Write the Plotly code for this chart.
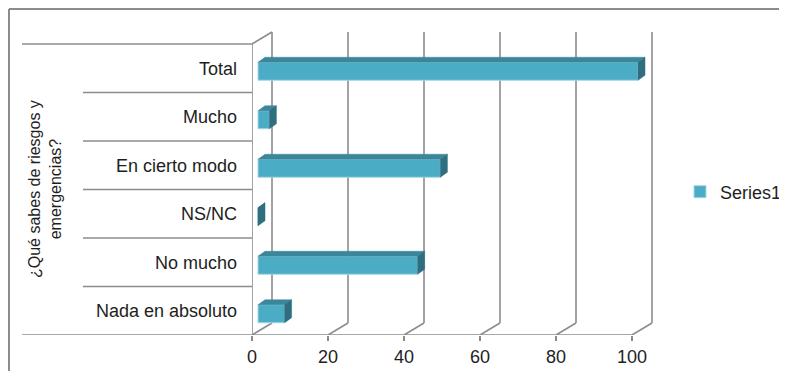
import plotly.graph_objects as go

# data (bottom to top, as drawn)
categories = ["Nada en absoluto", "No mucho", "NS/NC", "En cierto modo", "Mucho", "Total"]
values = [7, 42, 0, 48, 3, 100]
x_ticks = [0, 20, 40, 60, 80, 100]
series_name = "Series1"
axis_title = "¿Qué sabes de riesgos y<br>emergencias?"

# the page body adds an 8px margin, so the figure is drawn 8px smaller
OFF = 8
W, H = 787 - OFF, 371 - OFF
ML, MT, MR = 252 - OFF, 28 - OFF, 0
MB = H - (335 - OFF)
PW = W - ML - MR
PH = H - MT - MB
SX, SY = 3.8, 48.5          # px per data unit
DX, DY = 20 / SX, 12 / SY   # depth of the 3d box
BX, BY = 6 / SX, -3 / SY    # front face of bars inside the box
BDX, BDY = 7 / SX, 5 / SY   # bar depth
BH = 18 / SY

GRID = "#8c8c8c"
FONT = "Liberation Sans, Arial, sans-serif"


def pxx(p):
    # reference pixel -> paper x
    return (p - OFF - ML) / PW


def pxy(p):
    # reference pixel -> paper y
    return (H - MB - (p - OFF)) / PH


ypos = list(range(len(categories)))
lo, hi = -0.5, len(categories) - 0.5

fig = go.Figure()

# front faces
fig.add_trace(go.Bar(
    y=[i + BY for i in ypos], x=values, base=BX, width=BH, orientation="h",
    marker=dict(color="#4bacc6", line=dict(color="#a6d6e4", width=1)),
    name=series_name, showlegend=True, hoverinfo="skip",
))

# top + side faces
tx, ty, sx, sy = [], [], [], []
for i, v in zip(ypos, values):
    yb, yt = i + BY - BH / 2, i + BY + BH / 2
    x0, x1 = BX, BX + v
    tx += [x0, x1, x1 + BDX, x0 + BDX, x0, None]
    ty += [yt, yt, yt + BDY, yt + BDY, yt, None]
    sx += [x1, x1, x1 + BDX, x1 + BDX, x1, None]
    sy += [yb, yt, yt + BDY, yb + BDY, yb, None]
fig.add_trace(go.Scatter(x=tx, y=ty, mode="lines", fill="toself", fillcolor="#3a879c",
                         line=dict(color="#3a879c", width=0.5), showlegend=False, hoverinfo="skip"))
fig.add_trace(go.Scatter(x=sx, y=sy, mode="lines", fill="toself", fillcolor="#2f6e7f",
                         line=dict(color="#2f6e7f", width=0.5), showlegend=False, hoverinfo="skip"))

shapes = []
ln = dict(color=GRID, width=1.6)
# back wall gridlines and floor diagonals
for t in x_ticks:
    shapes.append(dict(type="line", xref="x", yref="y", x0=t, y0=lo, x1=t + DX, y1=lo + DY, line=ln, layer="below"))
    shapes.append(dict(type="line", xref="x", yref="y", x0=t + DX, y0=lo + DY, x1=t + DX, y1=hi + DY, line=ln, layer="below"))
# left wall
shapes.append(dict(type="line", xref="x", yref="y", x0=0, y0=lo, x1=0, y1=hi, line=ln, layer="below"))
shapes.append(dict(type="line", xref="x", yref="y", x0=0, y0=hi, x1=DX, y1=hi + DY, line=ln, layer="below"))
# front floor edge
shapes.append(dict(type="line", xref="x", yref="y", x0=0, y0=lo, x1=x_ticks[-1], y1=lo, line=ln, layer="below"))
# category separators on the left
for k in range(len(categories) + 1):
    y = lo + k
    start = 22 if k in (0, len(categories)) else 83
    shapes.append(dict(type="line", xref="paper", yref="y", x0=pxx(start), y0=y, x1=0, y1=y, line=ln))
# chart frame (top and left only visible)
shapes.append(dict(type="line", xref="paper", yref="paper", x0=pxx(9), y0=pxy(9), x1=pxx(800), y1=pxy(9),
                   line=dict(color=GRID, width=2)))
shapes.append(dict(type="line", xref="paper", yref="paper", x0=pxx(9), y0=pxy(9), x1=pxx(9), y1=pxy(380),
                   line=dict(color=GRID, width=2)))

fig.update_layout(
    width=W, height=H,
    margin=dict(l=ML, r=MR, t=MT, b=MB, pad=0, autoexpand=False),
    paper_bgcolor="white", plot_bgcolor="rgba(0,0,0,0)",
    font=dict(family=FONT, size=18, color="#1e1e1e"),
    shapes=shapes,
    showlegend=True,
    legend=dict(x=pxx(680), y=pxy(192), xanchor="left", yanchor="middle",
                font=dict(size=18), bgcolor="rgba(0,0,0,0)"),
    annotations=[dict(text=axis_title, textangle=-90, xref="paper", yref="paper",
                      x=pxx(45), y=pxy(189), xanchor="center", yanchor="middle",
                      showarrow=False, font=dict(size=16), align="center")],
)
fig.update_xaxes(range=[0, PW / SX], tickvals=x_ticks, showgrid=False, zeroline=False, showline=False,
                 ticks="outside", ticklen=5, tickcolor=GRID, tickwidth=1.5, fixedrange=True)
fig.update_yaxes(range=[lo, lo + PH / SY], tickvals=ypos, ticktext=categories, showgrid=False,
                 zeroline=False, showline=False, ticks="", ticklabelstandoff=14, fixedrange=True)

fig.write_html("out.html")
